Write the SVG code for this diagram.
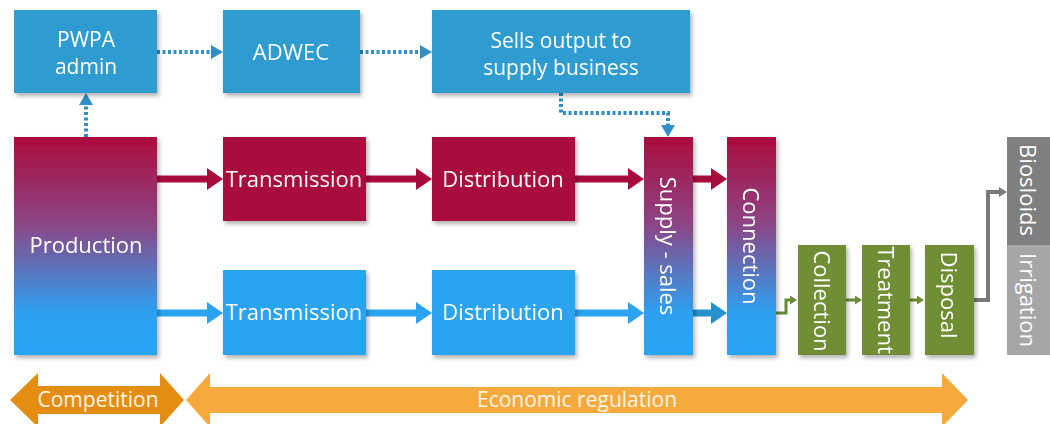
<svg xmlns="http://www.w3.org/2000/svg" width="1050" height="424" viewBox="0 0 1050 424">
<defs>
<style>
.t{font-family:"Open Sans","DejaVu Sans",sans-serif;font-size:22px;fill:#ffffff;text-anchor:middle}
.t2{font-family:"Open Sans","DejaVu Sans",sans-serif;font-size:21px;fill:#ffffff;text-anchor:middle}
.v{font-family:"Open Sans","DejaVu Sans",sans-serif;font-size:22px;fill:#ffffff;text-anchor:middle}
.ob{font-family:"Open Sans","DejaVu Sans",sans-serif;font-size:21px;fill:#fff6e6;text-anchor:middle}
.top{fill:#2f9bd1}
.red{fill:#a90a3c}
.blue{fill:#2aa3f0}
.grn{fill:#6f8f36}
.dot{fill:none;stroke:#2f8fc6;stroke-width:4;stroke-dasharray:3 2.5}
</style>
<linearGradient id="gr" x1="0" y1="0" x2="0" y2="1">
<stop offset="0" stop-color="#ab0c3d"/>
<stop offset="0.4" stop-color="#8c4585"/>
<stop offset="0.8" stop-color="#2e9ff0"/>
<stop offset="1" stop-color="#28a5f5"/>
</linearGradient>
<filter id="sh" x="-10%" y="-10%" width="130%" height="130%">
<feDropShadow dx="2" dy="3" stdDeviation="2" flood-color="#000" flood-opacity="0.3"/>
</filter>
<marker id="mDot" markerUnits="userSpaceOnUse" markerWidth="12" markerHeight="14" viewBox="0 0 12 14" refX="0" refY="7" orient="auto">
<path d="M0,0 L12,7 L0,14 z" fill="#2f8fc6"/>
</marker>
<marker id="mRed" markerUnits="userSpaceOnUse" markerWidth="16" markerHeight="22" viewBox="0 0 16 22" refX="0" refY="11" orient="auto">
<path d="M0,0 L16,11 L0,22 z" fill="#a90a3c"/>
</marker>
<marker id="mBlue" markerUnits="userSpaceOnUse" markerWidth="16" markerHeight="22" viewBox="0 0 16 22" refX="0" refY="11" orient="auto">
<path d="M0,0 L16,11 L0,22 z" fill="#2aa3f0"/>
</marker>
<marker id="mBlue2" markerUnits="userSpaceOnUse" markerWidth="16" markerHeight="22" viewBox="0 0 16 22" refX="0" refY="11" orient="auto">
<path d="M0,0 L16,11 L0,22 z" fill="#2592cc"/>
</marker>
<marker id="mGrn" markerUnits="userSpaceOnUse" markerWidth="7" markerHeight="9" viewBox="0 0 7 9" refX="0" refY="4.5" orient="auto">
<path d="M0,0 L7,4.5 L0,9 z" fill="#6a8a35"/>
</marker>
<marker id="mGry" markerUnits="userSpaceOnUse" markerWidth="8" markerHeight="10" viewBox="0 0 8 10" refX="0" refY="5" orient="auto">
<path d="M0,0 L8,5 L0,10 z" fill="#7a7a7a"/>
</marker>
</defs>
<rect width="1050" height="424" fill="#ffffff"/>

<g id="connectors">
<path class="dot" d="M157,52 H211" marker-end="url(#mDot)"/>
<path class="dot" d="M360,52 H420" marker-end="url(#mDot)"/>
<path class="dot" d="M86,137 V105" marker-end="url(#mDot)"/>
<path class="dot" d="M561,93 V113 H668 V125" marker-end="url(#mDot)"/>
<path d="M157,179 H207" stroke="#a90a3c" stroke-width="7" fill="none" marker-end="url(#mRed)"/>
<path d="M366,179 H416" stroke="#a90a3c" stroke-width="7" fill="none" marker-end="url(#mRed)"/>
<path d="M575,179 H628" stroke="#a90a3c" stroke-width="7" fill="none" marker-end="url(#mRed)"/>
<path d="M693,179 H711" stroke="#a90a3c" stroke-width="7" fill="none" marker-end="url(#mRed)"/>
<path d="M157,313 H207" stroke="#2aa3f0" stroke-width="7" fill="none" marker-end="url(#mBlue)"/>
<path d="M366,313 H416" stroke="#2aa3f0" stroke-width="7" fill="none" marker-end="url(#mBlue)"/>
<path d="M575,313 H628" stroke="#2aa3f0" stroke-width="7" fill="none" marker-end="url(#mBlue)"/>
<path d="M693,313 H711" stroke="#2592cc" stroke-width="7" fill="none" marker-end="url(#mBlue2)"/>
<path d="M776,313 H786 V300 H790" stroke="#6a8a35" stroke-width="3" fill="none" marker-end="url(#mGrn)"/>
<path d="M846,300 H855" stroke="#6a8a35" stroke-width="3" fill="none" marker-end="url(#mGrn)"/>
<path d="M910,300 H917" stroke="#6a8a35" stroke-width="3" fill="none" marker-end="url(#mGrn)"/>
<path d="M974,300 H988 V192 H999" stroke="#7a7a7a" stroke-width="4" fill="none" marker-end="url(#mGry)"/>
</g>

<g id="pwpa" filter="url(#sh)">
<rect class="top" x="14" y="10" width="143" height="83"/>
<text class="t2" x="86" y="47">PWPA</text>
<text class="t2" x="86" y="74">admin</text>
</g>
<g id="adwec" filter="url(#sh)">
<rect class="top" x="223" y="10" width="137" height="83"/>
<text class="t" x="291" y="60">ADWEC</text>
</g>
<g id="sells" filter="url(#sh)">
<rect class="top" x="432" y="10" width="258" height="83"/>
<text class="t2" x="561" y="48">Sells output to</text>
<text class="t2" x="561" y="75">supply business</text>
</g>

<g id="production" filter="url(#sh)">
<rect x="14" y="137" width="143" height="218" fill="url(#gr)"/>
<text class="t" x="86" y="253">Production</text>
</g>
<g id="transmission-red" filter="url(#sh)">
<rect class="red" x="223" y="137" width="143" height="84"/>
<text class="t" x="294" y="187">Transmission</text>
</g>
<g id="distribution-red" filter="url(#sh)">
<rect class="red" x="432" y="137" width="143" height="84"/>
<text class="t" x="503" y="187">Distribution</text>
</g>
<g id="transmission-blue" filter="url(#sh)">
<rect class="blue" x="223" y="270" width="143" height="85"/>
<text class="t" x="294" y="320">Transmission</text>
</g>
<g id="distribution-blue" filter="url(#sh)">
<rect class="blue" x="432" y="270" width="143" height="85"/>
<text class="t" x="503" y="320">Distribution</text>
</g>
<g id="supply" filter="url(#sh)">
<rect x="644" y="137" width="49" height="218" fill="url(#gr)"/>
<text class="v" transform="translate(668,246) rotate(90)" dy="0.35em">Supply - sales</text>
</g>
<g id="connection" filter="url(#sh)">
<rect x="727" y="137" width="49" height="218" fill="url(#gr)"/>
<text class="v" transform="translate(751,246) rotate(90)" dy="0.35em">Connection</text>
</g>
<g id="collection" filter="url(#sh)">
<rect class="grn" x="798" y="245" width="48" height="110"/>
<text class="v" transform="translate(822,301) rotate(90)" dy="0.35em">Collection</text>
</g>
<g id="treatment" filter="url(#sh)">
<rect class="grn" x="862" y="245" width="48" height="110"/>
<text class="v" transform="translate(886,300) rotate(90)" dy="0.35em">Treatment</text>
</g>
<g id="disposal" filter="url(#sh)">
<rect class="grn" x="925" y="245" width="49" height="110"/>
<text class="v" transform="translate(949,295) rotate(90)" dy="0.35em">Disposal</text>
</g>
<g id="biosloids">
<rect x="1007" y="137" width="43" height="108" fill="#7f7f7f"/>
<text class="v" transform="translate(1028,190) rotate(90)" dy="0.35em">Biosloids</text>
</g>
<g id="irrigation">
<rect x="1007" y="245" width="43" height="110" fill="#a6a6a6"/>
<text class="v" transform="translate(1028,300) rotate(90)" dy="0.35em">Irrigation</text>
</g>

<g id="competition">
<polygon points="10,400 38,373 38,386 160,386 160,373 184,400 160,427 160,414 38,414 38,427" fill="#e58c12"/>
<text class="ob" x="98" y="407">Competition</text>
</g>
<g id="economic-regulation">
<polygon points="186,400 210,373 210,387 942,387 942,373 968,400 942,427 942,413 210,413 210,427" fill="#f6a93c"/>
<text class="ob" x="577" y="407">Economic regulation</text>
</g>
</svg>
